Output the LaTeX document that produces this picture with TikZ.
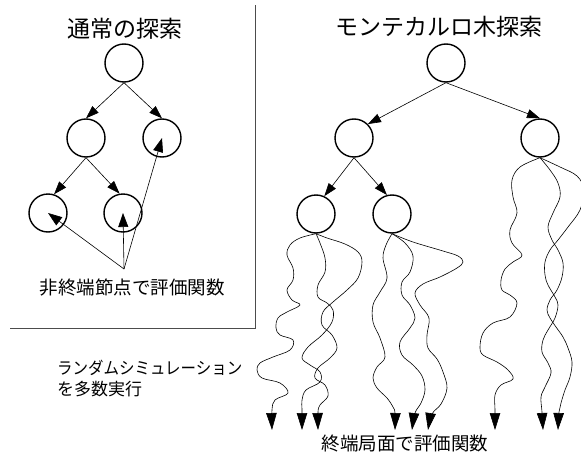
\documentclass[tikz,border=0pt]{standalone}
\usepackage{graphicx}
\usepackage{fontspec}
\setmainfont{Noto Sans CJK JP}
\usetikzlibrary{arrows.meta}
\tikzset{
  nd/.style={circle,draw,line width=1.4pt,minimum size=38pt,inner sep=0pt},
  treearrow/.style={-{Triangle[length=13pt,width=9pt]},line width=0.6pt},
  evalarrow/.style={-{Triangle[length=14pt,width=10pt]},line width=0.6pt},
  walk/.style={-{Triangle[length=17pt,width=10.5pt]},line width=0.6pt},
  frame/.style={line width=0.8pt,black!70},
  title/.style={font=\fontsize{23}{27}\selectfont,inner sep=0pt},
  lbl/.style={font=\fontsize{18.5}{22}\selectfont,inner sep=0pt},
  side/.style={font=\fontsize{17}{21}\selectfont,inner sep=0pt,anchor=west}
}
\begin{document}
\begin{tikzpicture}[x=1pt,y=-1pt]
\useasboundingbox (0,0) rectangle (581,455);
% left frame
\draw[frame] (255,5) -- (255,328) -- (10,328);
% titles
\node[title] (t1) at (125,29) {通常の探索};
\node[title] (t2) at (439,27) {モンテカルロ木探索};
% left tree
\node[nd] (r) at (124,63) {};
\node[nd] (a1) at (86,138) {};
\node[nd] (a2) at (162,138) {};
\node[nd] (b1) at (48,213) {};
\node[nd] (b2) at (123,213) {};
\draw[treearrow] (r.south) -- (a1.north);
\draw[treearrow] (r.south) -- (a2.north);
\draw[treearrow] (a1.south) -- (b1.72);
\draw[treearrow] (a1.south) -- (b2.100);
\node[lbl] (ev) at (132,288) {非終端節点で評価関数};
\coordinate (evp) at (124,269);
\draw[evalarrow] (evp) -- (b1.center);
\draw[evalarrow] (evp) -- (b2.center);
\draw[evalarrow] (evp) -- (a2.center);
% right tree
\node[nd] (R) at (446,63) {};
\node[nd] (m) at (354,138) {};
\node[nd] (n) at (540,138) {};
\node[nd] (m1) at (316,214) {};
\node[nd] (m2) at (392,214) {};
\draw[treearrow] (R.south) -- (m.north east);
\draw[treearrow] (R.south) -- (n.north);
\draw[treearrow] (m.south) -- (m1.65);
\draw[treearrow] (m.south) -- (m2.105);
% end points
\coordinate (e1) at (272,430);
\coordinate (e2) at (302,430);
\coordinate (e3) at (318,430);
\coordinate (e4) at (395,430);
\coordinate (e5) at (412,430);
\coordinate (e6) at (428,430);
\coordinate (e7) at (495,430);
\coordinate (e8) at (558,430);
\coordinate (e9) at (543,430);
% random walks
\draw[walk] plot[smooth,tension=0.6] coordinates {(m1.south) (300,238) (290,245) (287,255) (293,268) (293,280) (287,290) (292,300) (300,305) (287,312) (278,318) (276,328) (280,335) (293,340) (290,350) (273,357) (260,363) (257,370) (262,378) (280,383) (288,393) (275,400) (272,410) (e1)};
\draw[walk] plot[smooth,tension=0.6] coordinates {(m1.south) (320,243) (325,258) (325,272) (318,285) (318,297) (327,303) (333,310) (332,322) (322,335) (308,347) (302,358) (310,365) (320,372) (320,382) (306,390) (302,400) (302,410) (e2)};
\draw[walk] plot[smooth,tension=0.6] coordinates {(m1.south) (327,238) (345,244) (358,252) (362,262) (358,278) (347,290) (333,302) (323,312) (322,325) (332,335) (337,348) (330,358) (318,368) (315,378) (325,385) (328,396) (320,405) (318,412) (e3)};
\draw[walk] plot[smooth,tension=0.6] coordinates {(m2.south) (386,245) (383,258) (387,278) (380,292) (373,305) (373,322) (380,338) (385,357) (377,367) (373,378) (377,388) (387,398) (393,407) (395,413) (e4)};
\draw[walk] plot[smooth,tension=0.6] coordinates {(m2.south) (405,243) (413,256) (410,272) (402,282) (402,295) (410,305) (415,318) (410,328) (400,342) (402,355) (413,365) (422,376) (425,390) (421,403) (415,413) (e5)};
\draw[walk] plot[smooth,tension=0.6] coordinates {(m2.south) (413,242) (443,251) (458,256) (463,262) (457,268) (440,277) (423,284) (415,293) (420,305) (429,318) (427,335) (428,348) (437,359) (443,372) (447,388) (441,404) (432,414) (e6)};
\draw[walk] plot[smooth,tension=0.6] coordinates {(n.south) (520,167) (512,180) (513,197) (517,213) (510,230) (512,243) (522,255) (513,262) (505,269) (501,280) (502,290) (510,295) (517,303) (510,317) (493,323) (483,333) (480,347) (483,355) (497,362) (508,370) (513,379) (501,385) (495,395) (495,410) (e7)};
\draw[walk] plot[smooth,tension=0.6] coordinates {(n.south) (550,170) (558,183) (560,197) (553,213) (548,227) (552,240) (558,250) (563,263) (562,277) (557,290) (550,300) (547,310) (550,318) (556,327) (563,337) (568,348) (572,362) (570,377) (565,390) (561,403) (559,412) (e8)};
\draw[walk] plot[smooth,tension=0.6] coordinates {(n.south) (560,167) (577,176) (584,190) (580,210) (568,227) (558,240) (550,250) (545,262) (545,275) (548,285) (555,297) (558,305) (555,318) (548,330) (543,340) (542,352) (548,363) (551,373) (545,387) (541,397) (542,412) (e9)};
% labels
\node[side] (s1) at (57,368) {\scalebox{0.91}[1]{ランダムシミュレーション}};
\node[side] (s2) at (57,389) {を多数実行};
\node[lbl] (fin) at (405,444) {終端局面で評価関数};
\end{tikzpicture}
\end{document}
